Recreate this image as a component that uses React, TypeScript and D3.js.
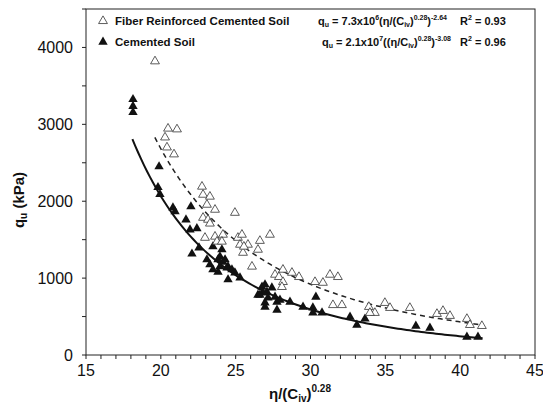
import React from "react";
import * as d3 from "d3";

// Fiber reinforced cemented soil (open triangles)
const fiberEta = [19.61, 20.48, 21.08, 20.28, 20.41, 20.88, 22.75, 22.82, 23.28, 23.08, 23.62, 22.82, 23.15, 23.28, 24.95, 22.95, 23.62, 24.15, 23.75, 24.08, 25.15, 25.42, 25.29, 25.82, 26.62, 27.29, 25.49, 26.49, 26.09, 27.63, 28.16, 27.89, 28.76, 29.23, 28.16, 28.09, 30.3, 30.83, 31.3, 31.83, 31.5, 32.1, 33.9, 34.97, 34.3, 33.97, 35.31, 36.64, 38.45, 38.85, 39.32, 40.45, 40.65, 41.45, 25.55];
const fiberQu = [3820, 2945, 2935, 2830, 2700, 2610, 2190, 2085, 2060, 1955, 1890, 1785, 1760, 1710, 1850, 1525, 1540, 1565, 1475, 1475, 1525, 1565, 1435, 1435, 1485, 1565, 1330, 1370, 1150, 1045, 1110, 1015, 1070, 1015, 950, 885, 950, 940, 1045, 1015, 650, 650, 626, 678, 548, 548, 613, 613, 535, 574, 509, 470, 391, 378, 1410];

// Cemented soil (filled triangles)
const cemEta = [18.14, 18.14, 18.14, 19.88, 19.81, 19.94, 20.81, 20.95, 22.01, 21.68, 21.95, 22.41, 22.55, 22.08, 23.08, 23.48, 24.08, 23.95, 24.15, 23.95, 24.49, 23.82, 24.29, 23.48, 23.82, 24.42, 24.75, 24.95, 24.49, 23.28, 26.49, 26.76, 26.96, 27.09, 27.42, 27.63, 26.82, 27.16, 27.76, 26.96, 26.62, 26.96, 27.76, 27.96, 28.63, 29.5, 30.16, 30.36, 30.16, 30.77, 25.29, 32.64, 33.1, 33.64, 37.04, 37.98, 40.45, 41.19];
const cemQu = [3325, 3235, 3155, 2450, 2180, 2090, 1915, 1865, 1930, 1760, 1630, 1645, 1395, 1315, 1240, 1410, 1370, 1280, 1210, 1150, 1150, 1240, 1240, 1110, 1080, 1135, 1110, 1070, 980, 1175, 780, 885, 915, 820, 875, 755, 810, 745, 690, 680, 780, 625, 585, 715, 690, 625, 615, 755, 550, 550, 1005, 495, 390, 470, 378, 352, 235, 235];

// Fit equations shown in the legend: qu = a * x^b
const fiberFit = { a: 7.3e6, b: -2.64, from: 19.6, to: 41.5 };
const cemFit = { a: 2.1e7, b: -3.08, from: 18.1, to: 41.5 };

const xTicks = [15, 20, 25, 30, 35, 40, 45];
const yTicks = [0, 1000, 2000, 3000, 4000];

export default function App() {
  const W = 543, H = 407;
  const left = 86, right = 535, top = 9, bottom = 355;
  const x = d3.scaleLinear().domain([15, 45]).range([left, right]);
  const y = d3.scaleLinear().domain([0, 4500]).range([bottom, top]);

  const curve = (f: { a: number; b: number; from: number; to: number }) => {
    const pts: [number, number][] = [];
    const n = 120;
    for (let i = 0; i <= n; i++) {
      const e = f.from + ((f.to - f.from) * i) / n;
      pts.push([e, f.a * Math.pow(e, f.b)]);
    }
    return d3.line<[number, number]>().x((d) => x(d[0])).y((d) => y(d[1]))(pts) || "";
  };

  const tri = d3.symbol().type(d3.symbolTriangle).size(34)() || "";
  const triF = d3.symbol().type(d3.symbolTriangle).size(38)() || "";
  const xMinor = d3.range(15, 46, 1);
  const yMinor = d3.range(0, 4501, 500);
  const font = "Liberation Sans, Arial, sans-serif";

  return (
    <svg width={W} height={H} style={{ position: "absolute", left: 0, top: 0, background: "#fff" }} fontFamily={font}>
      <rect x={0} y={0} width={W} height={H} fill="#fff" />
      {/* frame */}
      <rect x={left} y={top} width={right - left} height={bottom - top} fill="none" stroke="#222" strokeWidth={1} />
      {/* ticks */}
      {xMinor.map((t) => (
        <line key={"xm" + t} x1={x(t)} x2={x(t)} y1={bottom} y2={bottom + 4} stroke="#222" strokeWidth={1} />
      ))}
      {yMinor.map((t) => (
        <line key={"ym" + t} x1={left - 4} x2={left} y1={y(t)} y2={y(t)} stroke="#222" strokeWidth={1} />
      ))}
      {xTicks.map((t) => (
        <text key={"xt" + t} x={x(t)} y={376} fontSize={16} textAnchor="middle" fill="#111">{t}</text>
      ))}
      {yTicks.map((t) => (
        <text key={"yt" + t} x={73} y={y(t) + 6} fontSize={16} textAnchor="end" fill="#111">{t}</text>
      ))}
      {/* axis titles */}
      <text transform="translate(24,200) rotate(-90)" fontSize={15} fontWeight="bold" textAnchor="middle" fill="#111">
        q<tspan fontSize={10} dy={3}>u</tspan><tspan dy={-3}> (kPa)</tspan>
      </text>
      <text x={300} y={399} fontSize={15} fontWeight="bold" textAnchor="middle" fill="#111">
        η/(C<tspan fontSize={10} dy={3}>iv</tspan><tspan dy={-3}>)</tspan><tspan fontSize={10} dy={-7}>0.28</tspan>
      </text>
      {/* fits */}
      <path d={curve(fiberFit)} fill="none" stroke="#222" strokeWidth={1.5} strokeDasharray="5,4" />
      <path d={curve(cemFit)} fill="none" stroke="#111" strokeWidth={2} />
      {/* points */}
      {cemEta.map((e, i) => (
        <path key={"c" + i} d={triF} transform={`translate(${x(e)},${y(cemQu[i])})`} fill="#111" stroke="none" />
      ))}
      {fiberEta.map((e, i) => (
        <path key={"f" + i} d={tri} transform={`translate(${x(e)},${y(fiberQu[i])})`} fill="#fff" stroke="#333" strokeWidth={0.8} />
      ))}
      {/* legend */}
      <g fontSize={11.5} fontWeight="bold" fill="#111">
        <path d={tri} transform="translate(103,21)" fill="#fff" stroke="#333" strokeWidth={0.8} />
        <text x={115} y={25}>Fiber Reinforced Cemented Soil</text>
        <path d={triF} transform="translate(103,42)" fill="#111" />
        <text x={115} y={46}>Cemented Soil</text>
        <text x={318} y={25} fontSize={11}>
          q<tspan fontSize={7} dy={2}>u</tspan><tspan dy={-2}> = 7.3x10</tspan><tspan fontSize={7} dy={-5}>6</tspan>
          <tspan dy={5}>(η/(C</tspan><tspan fontSize={7} dy={2}>iv</tspan><tspan dy={-2}>)</tspan><tspan fontSize={7} dy={-5}>0.28</tspan>
          <tspan dy={5}>)</tspan><tspan fontSize={7} dy={-5}>-2.64</tspan>
        </text>
        <text x={460} y={25} fontSize={11}>R<tspan fontSize={7} dy={-5}>2</tspan><tspan dy={5}> = 0.93</tspan></text>
        <text x={322} y={46} fontSize={11}>
          q<tspan fontSize={7} dy={2}>u</tspan><tspan dy={-2}> = 2.1x10</tspan><tspan fontSize={7} dy={-5}>7</tspan>
          <tspan dy={5}>((η/C</tspan><tspan fontSize={7} dy={2}>iv</tspan><tspan dy={-2}>)</tspan><tspan fontSize={7} dy={-5}>0.28</tspan>
          <tspan dy={5}>)</tspan><tspan fontSize={7} dy={-5}>-3.08</tspan>
        </text>
        <text x={460} y={46} fontSize={11}>R<tspan fontSize={7} dy={-5}>2</tspan><tspan dy={5}> = 0.96</tspan></text>
      </g>
    </svg>
  );
}
